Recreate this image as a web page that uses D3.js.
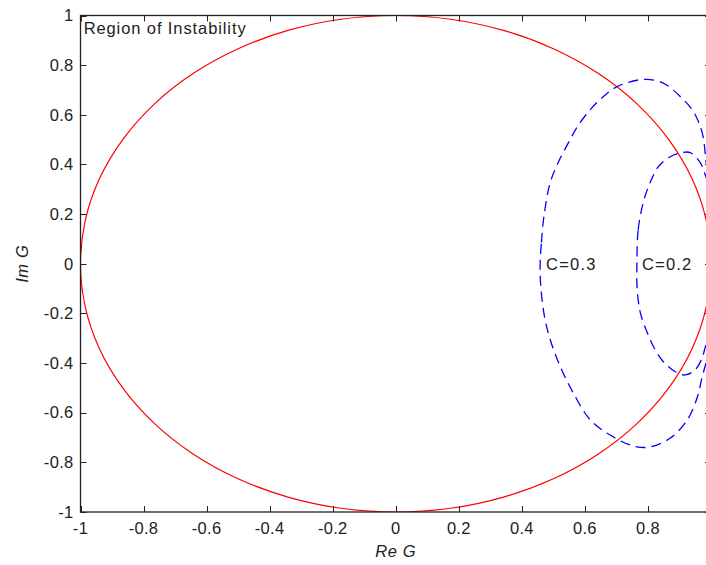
<!DOCTYPE html>
<html>
  <head>
    <title>Region of Instability</title>
    <style>
      body { margin: 0; background: #fff; }
      text { font-family: "Liberation Sans", Arial, sans-serif; fill: #222; }
    </style>
  </head>
  <body>
    <svg width="706" height="565"></svg>
    <script src="https://d3js.org/d3.v7.min.js"></script>
    <script>

    // unit circle |G| = 1 (red), points every 10 degrees
    var circleX = [1, 0.985, 0.940, 0.866, 0.766, 0.643, 0.5, 0.342, 0.174, 0, -0.174, -0.342, -0.5, -0.643, -0.766, -0.866, -0.940, -0.985,
                   -1, -0.985, -0.940, -0.866, -0.766, -0.643, -0.5, -0.342, -0.174, 0, 0.174, 0.342, 0.5, 0.643, 0.766, 0.866, 0.940, 0.985];
    var circleY = [0, 0.174, 0.342, 0.5, 0.643, 0.766, 0.866, 0.940, 0.985, 1, 0.985, 0.940, 0.866, 0.766, 0.643, 0.5, 0.342, 0.174,
                   0, -0.174, -0.342, -0.5, -0.643, -0.766, -0.866, -0.940, -0.985, -1, -0.985, -0.940, -0.866, -0.766, -0.643, -0.5, -0.342, -0.174];

    // C = 0.3 curve (blue dashed)
    var c03X = [0.458, 0.462, 0.470, 0.490, 0.515, 0.553, 0.576, 0.617, 0.658, 0.703, 0.782, 0.845, 0.903, 0.944, 0.972, 0.990, 1.03, 1.05,
                1.03, 0.990, 0.972, 0.957, 0.925, 0.871, 0.807, 0.753, 0.680, 0.617, 0.563, 0.522, 0.490, 0.472, 0.460];
    var c03Y = [0, 0.085, 0.19, 0.327, 0.407, 0.5, 0.552, 0.621, 0.673, 0.714, 0.742, 0.730, 0.673, 0.613, 0.528, 0.367, 0.2, 0,
                -0.2, -0.375, -0.456, -0.536, -0.629, -0.702, -0.738, -0.734, -0.690, -0.629, -0.520, -0.415, -0.306, -0.214, -0.09];

    // C = 0.2 curve (blue dashed)
    var c02X = [0.765, 0.769, 0.785, 0.807, 0.833, 0.871, 0.909, 0.934, 0.966, 0.979, 1.0, 1.02, 1.025,
                1.02, 1.0, 0.982, 0.972, 0.950, 0.918, 0.887, 0.849, 0.823, 0.798, 0.776, 0.766];
    var c02Y = [0, 0.137, 0.246, 0.327, 0.391, 0.431, 0.448, 0.448, 0.407, 0.367, 0.29, 0.15, 0,
                -0.15, -0.27, -0.335, -0.379, -0.427, -0.448, -0.435, -0.395, -0.347, -0.278, -0.198, -0.105];

    var curveLabels = ["C=0.3", "C=0.2"];
    var labelX = [0.477, 0.781];
    var labelY = [0, 0];

    var xTicks = [-1, -0.8, -0.6, -0.4, -0.2, 0, 0.2, 0.4, 0.6, 0.8, 1];
    var yTicks = [-1, -0.8, -0.6, -0.4, -0.2, 0, 0.2, 0.4, 0.6, 0.8, 1];

    var svg = d3.select("svg"),
        pLeft = 80.5, pRight = 711, pTop = 15.5, pBottom = 512;

    var x = d3.scaleLinear().domain([-1, 1]).range([pLeft, pRight]);
    var y = d3.scaleLinear().domain([-1, 1]).range([pBottom, pTop]);

    svg.append("clipPath").attr("id", "plot")
      .append("rect")
        .attr("x", pLeft).attr("y", pTop)
        .attr("width", pRight - pLeft).attr("height", pBottom - pTop);

    var line = d3.line()
        .x(function(d) { return x(d[0]); })
        .y(function(d) { return y(d[1]); })
        .curve(d3.curveCatmullRomClosed);

    var g = svg.append("g").attr("clip-path", "url(#plot)");

    g.append("path")
        .attr("d", line(d3.zip(circleX, circleY)))
        .attr("fill", "none")
        .attr("stroke", "#ff0000")
        .attr("stroke-width", 1.2);

    [[c03X, c03Y], [c02X, c02Y]].forEach(function(c) {
      g.append("path")
          .attr("d", line(d3.zip(c[0], c[1])))
          .attr("fill", "none")
          .attr("stroke", "#0000ff")
          .attr("stroke-width", 1.3)
          .attr("stroke-dasharray", "10,6");
    });

    // axes, MATLAB style: box with inward ticks
    var axisColor = "#222";
    svg.append("rect")
        .attr("x", pLeft).attr("y", pTop)
        .attr("width", pRight - pLeft).attr("height", pBottom - pTop)
        .attr("fill", "none").attr("stroke", axisColor).attr("stroke-width", 1.3);

    var tl = 6;
    xTicks.forEach(function(t) {
      var px = Math.round(x(t)) + 0.5;
      svg.append("line").attr("x1", px).attr("x2", px).attr("y1", pBottom).attr("y2", pBottom - tl)
          .attr("stroke", axisColor);
      svg.append("line").attr("x1", px).attr("x2", px).attr("y1", pTop).attr("y2", pTop + tl)
          .attr("stroke", axisColor);
      if (t < 1) {
        svg.append("text")
            .attr("x", x(t)).attr("y", pBottom + 22)
            .attr("text-anchor", "middle")
            .attr("font-size", 16.5)
            .attr("letter-spacing", 0.3)
            .text(t);
      }
    });

    yTicks.forEach(function(t) {
      var py = Math.round(y(t)) + 0.5;
      svg.append("line").attr("x1", pLeft).attr("x2", pLeft + tl).attr("y1", py).attr("y2", py)
          .attr("stroke", axisColor);
      svg.append("line").attr("x1", pRight).attr("x2", pRight - tl).attr("y1", py).attr("y2", py)
          .attr("stroke", axisColor);
      svg.append("text")
          .attr("x", pLeft - 7).attr("y", y(t))
          .attr("dy", "0.35em")
          .attr("text-anchor", "end")
          .attr("font-size", 16.5)
          .attr("letter-spacing", 0.3)
          .text(t);
    });

    curveLabels.forEach(function(s, i) {
      svg.append("text")
          .attr("x", x(labelX[i])).attr("y", y(labelY[i]))
          .attr("dy", "0.35em")
          .attr("font-size", 16.5)
          .attr("letter-spacing", 1.2)
          .text(s);
    });

    svg.append("text")
        .attr("x", x(-0.99)).attr("y", y(0.95))
        .attr("dy", "0.35em")
        .attr("font-size", 16.5)
        .attr("letter-spacing", 0.9)
        .text("Region of Instability");

    svg.append("text")
        .attr("x", x(0)).attr("y", 557)
        .attr("text-anchor", "middle")
        .attr("font-size", 16.5)
        .attr("font-style", "italic")
        .attr("letter-spacing", 0.6)
        .text("Re G");

    svg.append("text")
        .attr("transform", "translate(28," + y(0) + ") rotate(-90)")
        .attr("text-anchor", "middle")
        .attr("font-size", 16.5)
        .attr("font-style", "italic")
        .attr("letter-spacing", 0.6)
        .text("Im G");

    </script>
  </body>
</html>
